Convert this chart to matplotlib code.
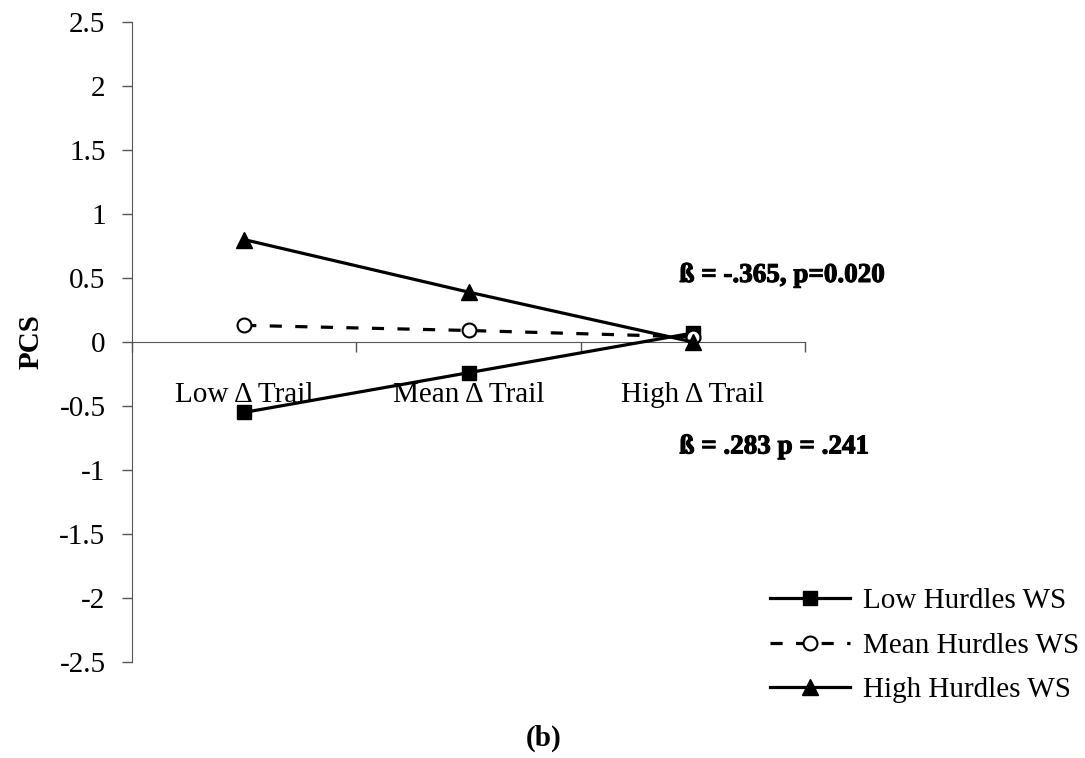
import matplotlib
matplotlib.use("Agg")
import matplotlib.pyplot as plt
import matplotlib.patheffects as pe
import numpy as np

categories = ["Low \u0394 Trail", "Mean \u0394 Trail", "High \u0394 Trail"]
low_ws = [-0.55, -0.24, 0.07]
mean_ws = [0.13, 0.09, 0.04]
high_ws = [0.80, 0.39, 0.00]
series_labels = ["Low Hurdles WS", "Mean Hurdles WS", "High Hurdles WS"]
yticks = [-2.5, -2, -1.5, -1, -0.5, 0, 0.5, 1, 1.5, 2, 2.5]
ytick_labels = ["-2.5", "-2", "-1.5", "-1", "-0.5", "0", "0.5", "1", "1.5", "2", "2.5"]
annot1 = "\u00df = -.365, p=0.020"
annot2 = "\u00df = .283 p = .241"

plt.rcParams['font.family'] = ['Liberation Serif', 'DejaVu Serif']
FS = 21

fig = plt.figure(figsize=(10.85, 7.58), dpi=100)
ax = fig.add_axes([132/1085, 1-662/758, (805-132)/1085, (662-22)/758])

x = np.arange(len(categories))
ax.plot(x, low_ws, color='black', lw=2.3, marker='s', ms=10, label=series_labels[0], zorder=3)
ax.plot(x, mean_ws, color='black', lw=2.3, ls=(0, (3.8, 4.2)), marker='o', ms=10,
        mfc='white', mec='black', mew=1.5, label=series_labels[1], zorder=3)
ax.plot(x, high_ws, color='black', lw=2.3, marker='^', ms=11, label=series_labels[2], zorder=3)

ax.set_xlim(-0.5, 2.5)
ax.set_ylim(-2.5, 2.5)
ax.set_yticks(yticks)
ax.set_yticklabels(ytick_labels, fontsize=FS)
ax.tick_params(axis='y', direction='out', length=7, width=1, color='#555555', pad=12)

ax.spines['top'].set_visible(False)
ax.spines['right'].set_visible(False)
ax.spines['left'].set_color('#555555')
ax.spines['bottom'].set_color('#555555')
ax.spines['bottom'].set_position(('data', 0))

ax.set_xticks([-0.5, 0.5, 1.5, 2.5])
ax.set_xticklabels([])
ax.tick_params(axis='x', which='major', direction='out', length=7, width=1, color='#555555')
ax.set_xticks(x, minor=True)
ax.set_xticklabels(categories, minor=True, fontsize=FS)
ax.tick_params(axis='x', which='minor', length=0, pad=29)

ax.set_ylabel("PCS", fontsize=FS, fontweight='bold', labelpad=11)

fx = [pe.withStroke(linewidth=0.8, foreground='black')]
ax.text(1.94, 0.52, annot1, fontsize=19.5, fontweight='bold', va='center', ha='left', path_effects=fx)
ax.text(1.94, -0.82, annot2, fontsize=19.5, fontweight='bold', va='center', ha='left', path_effects=fx)

fig.legend(loc='upper left', bbox_to_anchor=(770/1085, 1-588/758), frameon=False,
           fontsize=FS, handlelength=2.75, handletextpad=0.45, labelspacing=0.62,
           borderpad=0, borderaxespad=0)

fig.text(544/1085, 1-738/758, "(b)", fontsize=FS, fontweight='bold', ha='center', va='center')

fig.savefig("out.png", dpi=100)
